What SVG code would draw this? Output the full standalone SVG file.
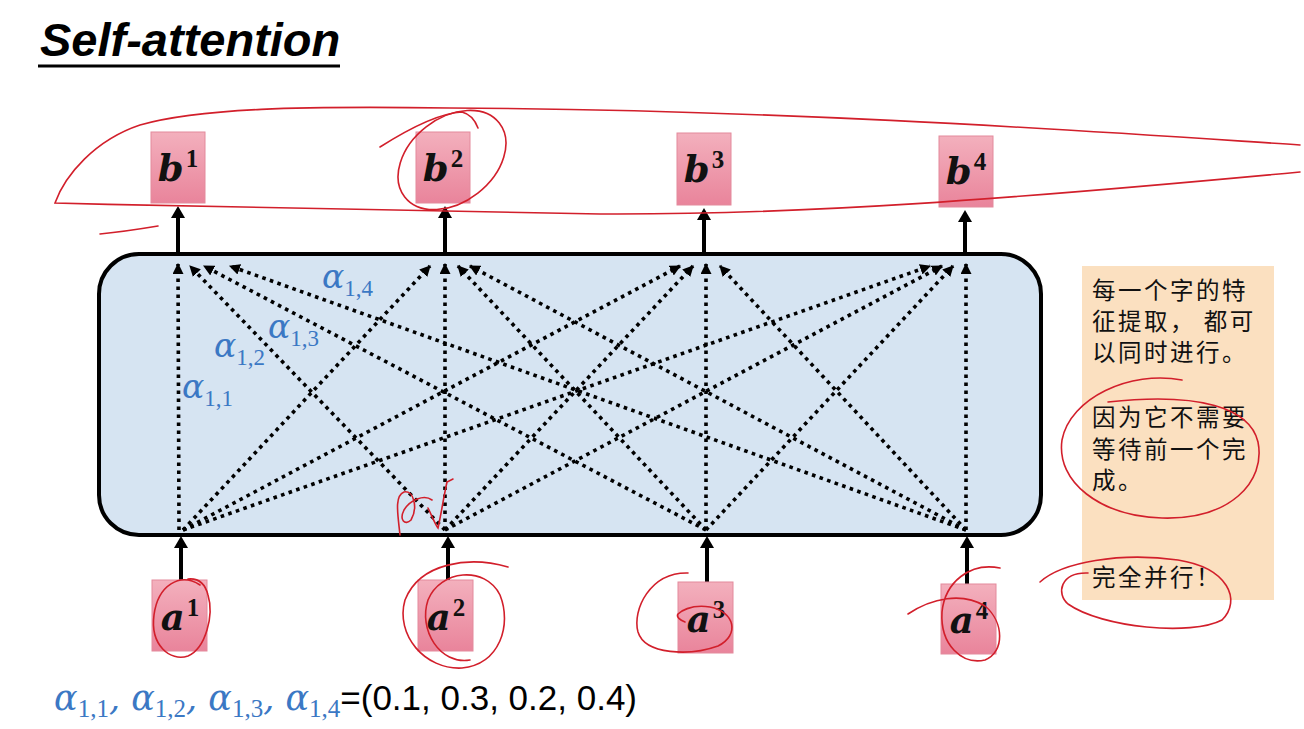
<svg xmlns="http://www.w3.org/2000/svg" width="1304" height="729" viewBox="0 0 1304 729">
<style>
.box{fill:url(#pink);stroke:#e38a9c;stroke-width:1}
.lbl{font-family:"DejaVu Serif","Liberation Serif",serif;font-weight:bold;font-style:italic;font-size:37px;fill:#111;text-anchor:middle}
.sup{font-family:"Liberation Serif","DejaVu Serif",serif;font-style:normal;font-weight:bold;font-size:25px}
.dot{stroke:#000;stroke-width:3.6;stroke-dasharray:3.6 4.4;fill:none;marker-end:url(#ah)}
.solid{stroke:#000;stroke-width:4;fill:none}
.alpha{font-family:"DejaVu Serif","Liberation Serif",serif;font-style:italic;fill:#3b78c4}
.sub{font-style:normal;font-family:"Liberation Serif","DejaVu Serif",serif}
.cn{font-family:"Noto Sans CJK SC",sans-serif;font-size:23.5px;fill:#111;letter-spacing:2.5px}
.red{fill:none;stroke:#d21f2b;stroke-width:1.6;stroke-linecap:round}
</style>
<defs>
<linearGradient id="pink" x1="0" y1="0" x2="0" y2="1">
<stop offset="0" stop-color="#f3b0bd"/>
<stop offset="1" stop-color="#e9849b"/>
</linearGradient>
<marker id="ah" viewBox="0 0 10 10" refX="9" refY="5" markerWidth="11" markerHeight="11" markerUnits="userSpaceOnUse" orient="auto">
<path d="M0,0 L10,5 L0,10 z" fill="#000"/>
</marker>
</defs>
<rect width="1304" height="729" fill="#fff"/>

<g id="title">
<text x="40" y="56" font-family="Liberation Sans, Arial, sans-serif" font-weight="bold" font-style="italic" font-size="47" fill="#000">Self-attention</text>
<line x1="38" y1="66" x2="340" y2="66" stroke="#000" stroke-width="3"/>
</g>

<g id="layer">
<rect x="99" y="254" width="942" height="281" rx="40" ry="40" fill="#d6e4f2" stroke="#000" stroke-width="4"/>
</g>

<g id="connectors">
<line class="solid" x1="181" y1="580" x2="181" y2="546"/>
<path d="M174,548 L181,536 L188,548 z"/>
<line class="solid" x1="448" y1="580" x2="448" y2="546"/>
<path d="M441,548 L448,536 L455,548 z"/>
<line class="solid" x1="707" y1="582" x2="707" y2="546"/>
<path d="M700,548 L707,536 L714,548 z"/>
<line class="solid" x1="967" y1="584" x2="967" y2="546"/>
<path d="M960,548 L967,536 L974,548 z"/>
<line class="solid" x1="178" y1="252" x2="178" y2="216"/>
<path d="M171,218 L178,206 L185,218 z"/>
<line class="solid" x1="445" y1="252" x2="445" y2="216"/>
<path d="M438,218 L445,206 L452,218 z"/>
<line class="solid" x1="704" y1="252" x2="704" y2="218"/>
<path d="M697,220 L704,208 L711,220 z"/>
<line class="solid" x1="965" y1="252" x2="965" y2="220"/>
<path d="M958,222 L965,210 L972,222 z"/>

<line class="dot" x1="179" y1="530" x2="178" y2="264"/>
<line class="dot" x1="183" y1="530" x2="430" y2="266"/>
<line class="dot" x1="183" y1="530" x2="680" y2="266"/>
<line class="dot" x1="183" y1="530" x2="930" y2="266"/>

<line class="dot" x1="445" y1="530" x2="190" y2="266"/>
<line class="dot" x1="445" y1="530" x2="445" y2="264"/>
<line class="dot" x1="445" y1="530" x2="693" y2="266"/>
<line class="dot" x1="445" y1="530" x2="942" y2="266"/>

<line class="dot" x1="706" y1="530" x2="204" y2="266"/>
<line class="dot" x1="706" y1="530" x2="458" y2="266"/>
<line class="dot" x1="706" y1="530" x2="706" y2="264"/>
<line class="dot" x1="706" y1="530" x2="953" y2="266"/>

<line class="dot" x1="966" y1="530" x2="230" y2="266"/>
<line class="dot" x1="966" y1="530" x2="470" y2="266"/>
<line class="dot" x1="966" y1="530" x2="720" y2="266"/>
<line class="dot" x1="966" y1="530" x2="966" y2="264"/>
</g>

<g id="b1"><rect class="box" x="151" y="132" width="54" height="71"/><text class="lbl" x="178" y="181">b<tspan class="sup" dx="2" dy="-14">1</tspan></text></g>
<g id="b2"><rect class="box" x="416" y="132" width="54" height="71"/><text class="lbl" x="443" y="181">b<tspan class="sup" dx="2" dy="-14">2</tspan></text></g>
<g id="b3"><rect class="box" x="677" y="133" width="54" height="72"/><text class="lbl" x="704" y="182">b<tspan class="sup" dx="2" dy="-14">3</tspan></text></g>
<g id="b4"><rect class="box" x="939" y="136" width="54" height="71"/><text class="lbl" x="966" y="184">b<tspan class="sup" dx="2" dy="-14">4</tspan></text></g>

<g id="a1"><rect class="box" x="152" y="580" width="55" height="71"/><text class="lbl" x="180" y="630">a<tspan class="sup" dx="2" dy="-14">1</tspan></text></g>
<g id="a2"><rect class="box" x="418" y="580" width="55" height="71"/><text class="lbl" x="446" y="630">a<tspan class="sup" dx="2" dy="-14">2</tspan></text></g>
<g id="a3"><rect class="box" x="678" y="582" width="55" height="71"/><text class="lbl" x="706" y="632">a<tspan class="sup" dx="2" dy="-14">3</tspan></text></g>
<g id="a4"><rect class="box" x="941" y="584" width="55" height="70"/><text class="lbl" x="969" y="633">a<tspan class="sup" dx="2" dy="-14">4</tspan></text></g>

<g id="alpha-labels">
<text class="alpha" x="182" y="398" font-size="33">α<tspan class="sub" font-size="23" dy="8">1,1</tspan></text>
<text class="alpha" x="214" y="357" font-size="33">α<tspan class="sub" font-size="23" dy="8">1,2</tspan></text>
<text class="alpha" x="268" y="338" font-size="33">α<tspan class="sub" font-size="23" dy="8">1,3</tspan></text>
<text class="alpha" x="322" y="288" font-size="33">α<tspan class="sub" font-size="23" dy="8">1,4</tspan></text>
</g>

<g id="formula">
<text x="54" y="710" font-size="35"><tspan class="alpha">α<tspan class="sub" font-size="25" dy="7">1,1</tspan><tspan dy="-7">, α</tspan><tspan class="sub" font-size="25" dy="7">1,2</tspan><tspan dy="-7">, α</tspan><tspan class="sub" font-size="25" dy="7">1,3</tspan><tspan dy="-7">, α</tspan><tspan class="sub" font-size="25" dy="7">1,4</tspan></tspan><tspan dy="-7" font-family="Liberation Sans, Arial, sans-serif" font-size="35" fill="#000">=(0.1, 0.3, 0.2, 0.4)</tspan></text>
</g>

<g id="note">
<rect x="1082" y="266" width="192" height="334" fill="#fbe0c0"/>
<text class="cn" x="1092" y="299">每一个字的特</text>
<text class="cn" x="1092" y="330">征提取， 都可</text>
<text class="cn" x="1092" y="361">以同时进行。</text>
<text class="cn" x="1092" y="426">因为它不需要</text>
<text class="cn" x="1092" y="458">等待前一个完</text>
<text class="cn" x="1092" y="489">成。</text>
<text class="cn" x="1092" y="586">完全并行！</text>
</g>

<g id="annotations">
<path class="red" d="M1300,145 C1100,132 800,110 450,108 C300,106 200,108 140,125 C95,140 65,175 55,203 C250,208 450,212 600,214 C800,215 1000,200 1300,172"/>
<path class="red" d="M100,234 C120,232 140,229 158,226"/>
<ellipse class="red" cx="452" cy="160" rx="60" ry="42" transform="rotate(-38 452 160)"/>
<path class="red" d="M380,147 C410,128 440,113 462,112 C470,114 475,120 478,128"/>
<path class="red" d="M200,585 C180,572 158,585 154,615 C150,645 170,662 188,656 C206,648 214,615 208,595 C205,583 198,578 188,579"/>
<path class="red" d="M508,567 C470,556 420,562 405,600 C395,635 425,670 462,668 C500,664 512,625 500,595 C485,565 440,570 428,600 C418,630 440,665 470,660"/>
<path class="red" d="M688,573 C650,572 632,610 638,632 C645,655 690,656 718,646 C740,635 735,612 710,607 C690,604 680,612 678,614 C676,617 680,620 685,622"/>
<path class="red" d="M1000,568 C970,562 945,582 942,612 C940,645 962,665 985,660 C1005,652 1004,622 985,606 C962,592 932,598 908,614"/>
<path class="red" d="M400,535 C398,515 394,496 404,492 C414,490 418,508 411,520 C405,526 399,520 404,510 C410,500 424,494 432,500 M428,508 C432,516 435,524 438,528 C441,515 444,495 447,482 L453,479"/>
<path class="red" d="M1182,380 C1130,370 1070,398 1062,440 C1056,482 1100,516 1162,518 C1230,520 1266,482 1258,442 C1250,408 1200,392 1108,402"/>
<path class="red" d="M1040,582 C1062,562 1120,552 1178,560 C1228,568 1242,600 1222,620 C1192,636 1102,628 1068,604 C1056,594 1060,572 1088,573"/>
</g>
</svg>
